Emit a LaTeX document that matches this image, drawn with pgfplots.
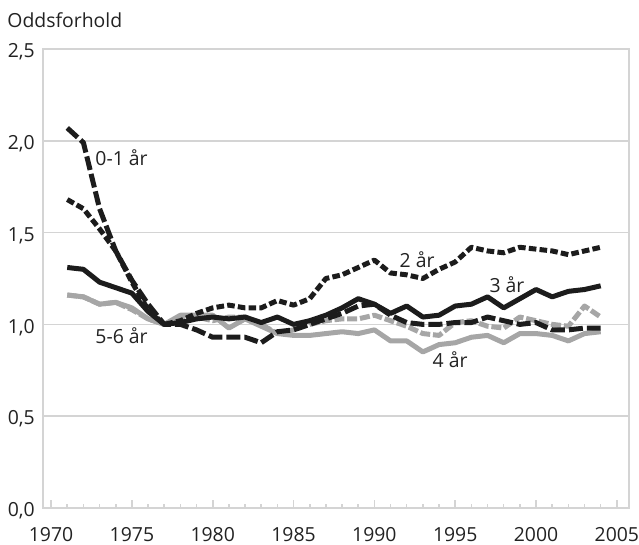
\documentclass[border=0pt]{standalone}
\usepackage{pgfplots}
\pgfplotsset{compat=1.18}
\usepackage{fontspec}
\setmainfont{Open Sans}
\definecolor{gridgray}{HTML}{D4D4D4}
\definecolor{linegray}{HTML}{A6A6A6}
\definecolor{lineblack}{HTML}{1C1C1C}
\definecolor{textgray}{HTML}{222222}
\begin{document}
\fontsize{9.7}{11}\selectfont
\begin{tikzpicture}
\useasboundingbox (-21.5pt,-18.5pt) rectangle (298pt,254pt);
\begin{axis}[
  at={(0,0)}, anchor=south west,
  scale only axis, width=293pt, height=229.5pt,
  xmin=1969.5, xmax=2005.75, ymin=0, ymax=2.5,
  axis line style={gridgray, line width=0.8pt},
  xtick={1970,1975,...,2005},
  xticklabels={1970,1975,1980,1985,1990,1995,2000,2005},
  minor xtick={1971,...,2004},
  xtick pos=bottom, tick align=inside,
  major tick length=4pt, minor tick length=2.2pt,
  tick style={gridgray, line width=0.8pt},
  ytick={0,0.5,...,2.5},
  yticklabels={{0,0},{0,5},{1,0},{1,5},{2,0},{2,5}},
  ytick style={draw=none},
  ymajorgrids, grid style={gridgray, line width=0.8pt},
  xticklabel style={anchor=north, yshift=-6.5pt, text=textgray, font=\fontsize{9.7}{11}\selectfont},
  yticklabel style={anchor=east, xshift=-0.7pt, yshift=-1.5pt, text=textgray, font=\fontsize{9.7}{11}\selectfont},
  clip=false,
  every axis plot/.append style={line width=2.5pt, line join=round},
]
% 5-6 år
\addplot[linegray, dash pattern=on 5pt off 1.4pt] coordinates {
(1971,1.16)(1972,1.15)(1973,1.11)(1974,1.12)(1975,1.08)(1976,1.03)(1977,1.00)(1978,1.03)(1979,1.04)(1980,1.02)
(1981,1.04)(1982,1.04)(1983,1.00)(1984,0.95)(1985,0.97)(1986,1.00)(1987,1.02)(1988,1.03)(1989,1.03)(1990,1.05)
(1991,1.02)(1992,0.99)(1993,0.95)(1994,0.94)(1995,1.01)(1996,1.02)(1997,0.99)(1998,0.98)(1999,1.04)(2000,1.02)
(2001,1.00)(2002,0.99)(2003,1.10)(2004,1.04)};
% 4 år
\addplot[linegray] coordinates {
(1971,1.16)(1972,1.15)(1973,1.11)(1974,1.12)(1975,1.09)(1976,1.03)(1977,1.00)(1978,1.05)(1979,1.05)(1980,1.05)
(1981,0.98)(1982,1.03)(1983,0.99)(1984,0.95)(1985,0.94)(1986,0.94)(1987,0.95)(1988,0.96)(1989,0.95)(1990,0.97)
(1991,0.91)(1992,0.91)(1993,0.85)(1994,0.89)(1995,0.90)(1996,0.93)(1997,0.94)(1998,0.90)(1999,0.95)(2000,0.95)
(2001,0.94)(2002,0.91)(2003,0.95)(2004,0.96)};
% 3 år
\addplot[lineblack] coordinates {
(1971,1.31)(1972,1.30)(1973,1.23)(1974,1.20)(1975,1.17)(1976,1.07)(1977,1.00)(1978,1.01)(1979,1.03)(1980,1.04)
(1981,1.03)(1982,1.04)(1983,1.01)(1984,1.04)(1985,1.00)(1986,1.02)(1987,1.05)(1988,1.09)(1989,1.14)(1990,1.11)
(1991,1.06)(1992,1.10)(1993,1.04)(1994,1.05)(1995,1.10)(1996,1.11)(1997,1.15)(1998,1.09)(1999,1.14)(2000,1.19)
(2001,1.15)(2002,1.18)(2003,1.19)(2004,1.21)};
% 0-1 år
\addplot[lineblack, dash pattern=on 7pt off 2pt] coordinates {
(1971,2.07)(1972,1.99)(1973,1.63)(1974,1.40)(1975,1.24)(1976,1.11)(1977,1.00)(1978,1.00)(1979,0.97)(1980,0.93)
(1981,0.93)(1982,0.93)(1983,0.90)(1984,0.96)(1985,0.97)(1986,1.00)(1987,1.03)(1988,1.06)(1989,1.10)(1990,1.11)
(1991,1.05)(1992,1.01)(1993,1.00)(1994,1.00)(1995,1.01)(1996,1.01)(1997,1.04)(1998,1.02)(1999,1.00)(2000,1.01)
(2001,0.97)(2002,0.97)(2003,0.98)(2004,0.98)};
% 2 år
\addplot[lineblack, dash pattern=on 3.8pt off 1.6pt] coordinates {
(1971,1.68)(1972,1.63)(1973,1.52)(1974,1.40)(1975,1.23)(1976,1.08)(1977,1.00)(1978,1.02)(1979,1.06)(1980,1.09)
(1981,1.105)(1982,1.09)(1983,1.09)(1984,1.13)(1985,1.105)(1986,1.14)(1987,1.25)(1988,1.27)(1989,1.31)(1990,1.35)
(1991,1.28)(1992,1.27)(1993,1.25)(1994,1.30)(1995,1.34)(1996,1.42)(1997,1.40)(1998,1.39)(1999,1.42)(2000,1.41)
(2001,1.40)(2002,1.38)(2003,1.40)(2004,1.42)};
\node[anchor=west, inner sep=0pt, text=textgray] at (axis cs:1972.72,1.91) {0-1 år};
\node[anchor=west, inner sep=0pt, text=textgray] at (axis cs:1972.72,0.94) {5-6 år};
\node[anchor=west, inner sep=0pt, text=textgray] at (axis cs:1991.54,1.35) {2 år};
\node[anchor=west, inner sep=0pt, text=textgray] at (axis cs:1997.1,1.215) {3 år};
\node[anchor=west, inner sep=0pt, text=textgray] at (axis cs:1993.58,0.806) {4 år};
\node[anchor=west, inner sep=0pt, text=textgray] at ([xshift=-18pt,yshift=14.5pt]rel axis cs:0,1) {Oddsforhold};
\end{axis}
\end{tikzpicture}
\end{document}
